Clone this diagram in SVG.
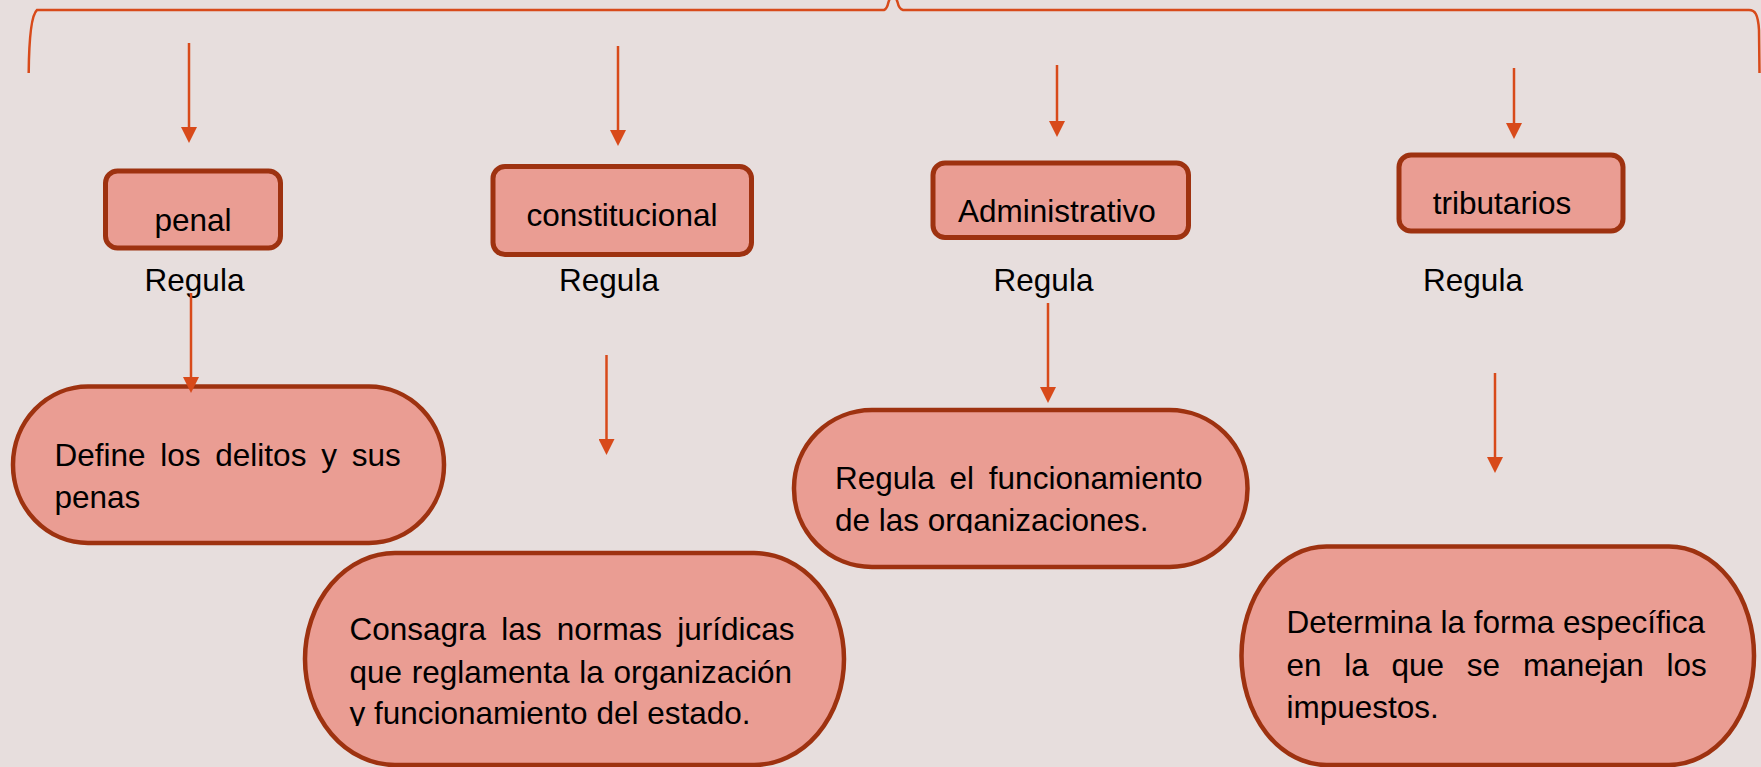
<svg xmlns="http://www.w3.org/2000/svg" width="1761" height="767" viewBox="0 0 1761 767">
<style>
.bg{fill:#E7DEDD}
.box{fill:#EA9D93;stroke:#9E3210;stroke-width:5}
.pill{fill:#EA9D93;stroke:#9E3210;stroke-width:4.5}
.t{font-family:"Liberation Sans",Arial,sans-serif;font-size:31.5px;fill:#000}
.c{text-anchor:middle}
.con{stroke:#D84A1A;stroke-width:2.5;fill:none}
</style>
<defs>
<marker id="ah" viewBox="0 0 16 16" refX="8" refY="8" markerWidth="16" markerHeight="16" markerUnits="userSpaceOnUse" orient="auto">
<path d="M0,0 L16,8 L0,16 z" fill="#D84A1A"/>
</marker>
<clipPath id="clip2"><rect x="780" y="420" width="480" height="113"/></clipPath>
<clipPath id="clip3"><rect x="300" y="560" width="560" height="166"/></clipPath>
</defs>
<rect class="bg" x="0" y="0" width="1761" height="767"/>

<g id="brace">
<path class="con" d="M28.7,73 C29,40 31,15 37,10 L884,10 Q887,9 888.5,2 L893,-10 L897.5,2 Q899,9 903,10 L1749,10 C1755,10 1758,14 1759,30 L1759.5,73"/>
</g>

<g id="node-penal">
<rect class="box" x="105.5" y="171" width="175" height="77" rx="12"/>
<text class="t c" x="193" y="231">penal</text>
</g>
<g id="node-constitucional">
<rect class="box" x="493" y="166.5" width="258.5" height="88" rx="12"/>
<text class="t c" x="622" y="226">constitucional</text>
</g>
<g id="node-administrativo">
<rect class="box" x="933" y="163" width="255.5" height="74.5" rx="12"/>
<text class="t c" x="1057" y="221.5">Administrativo</text>
</g>
<g id="node-tributarios">
<rect class="box" x="1399" y="155" width="224" height="76" rx="12"/>
<text class="t c" x="1502" y="214">tributarios</text>
</g>

<g id="labels">
<text class="t c" x="194.5" y="291">Regula</text>
<text class="t c" x="609" y="291">Regula</text>
<text class="t c" x="1043.5" y="291">Regula</text>
<text class="t c" x="1473" y="291">Regula</text>
</g>

<g id="node-define">
<rect class="pill" x="13" y="386.5" width="431" height="156.5" rx="75" ry="78"/>
<text class="t" x="54.5" y="466" word-spacing="6">Define los delitos y sus</text>
<text class="t" x="54.5" y="507.5">penas</text>
</g>
<g id="node-regula">
<rect class="pill" x="794" y="410" width="453.5" height="157" rx="78" ry="78"/>
<g clip-path="url(#clip2)">
<text class="t" x="835" y="489.3" word-spacing="6">Regula el funcionamiento</text>
<text class="t" x="835" y="531">de las organizaciones.</text>
</g>
</g>
<g id="node-consagra">
<rect class="pill" x="305" y="553" width="539" height="212" rx="90" ry="106"/>
<g clip-path="url(#clip3)">
<text class="t" x="349.5" y="640" word-spacing="6.5">Consagra las normas jurídicas</text>
<text class="t" x="349.5" y="682.7" word-spacing="1">que reglamenta la organización</text>
<text class="t" x="349.5" y="724.3">y funcionamiento del estado.</text>
</g>
</g>
<g id="node-determina">
<rect class="pill" x="1241.5" y="546.5" width="512.5" height="218.5" rx="85" ry="109"/>
<text class="t" x="1286.5" y="633">Determina la forma específica</text>
<text class="t" x="1286.5" y="676" word-spacing="14">en la que se manejan los</text>
<text class="t" x="1286.5" y="718">impuestos.</text>
</g>

<g id="connectors">
<line class="con" x1="189" y1="43" x2="189" y2="135" marker-end="url(#ah)"/>
<line class="con" x1="618" y1="46" x2="618" y2="138" marker-end="url(#ah)"/>
<line class="con" x1="1057" y1="65" x2="1057" y2="129" marker-end="url(#ah)"/>
<line class="con" x1="1514" y1="68" x2="1514" y2="131" marker-end="url(#ah)"/>
<line class="con" x1="191" y1="293" x2="191" y2="385" marker-end="url(#ah)"/>
<line class="con" x1="606.5" y1="355" x2="606.5" y2="447" marker-end="url(#ah)"/>
<line class="con" x1="1048" y1="303" x2="1048" y2="395" marker-end="url(#ah)"/>
<line class="con" x1="1495" y1="373" x2="1495" y2="465" marker-end="url(#ah)"/>
</g>
</svg>
